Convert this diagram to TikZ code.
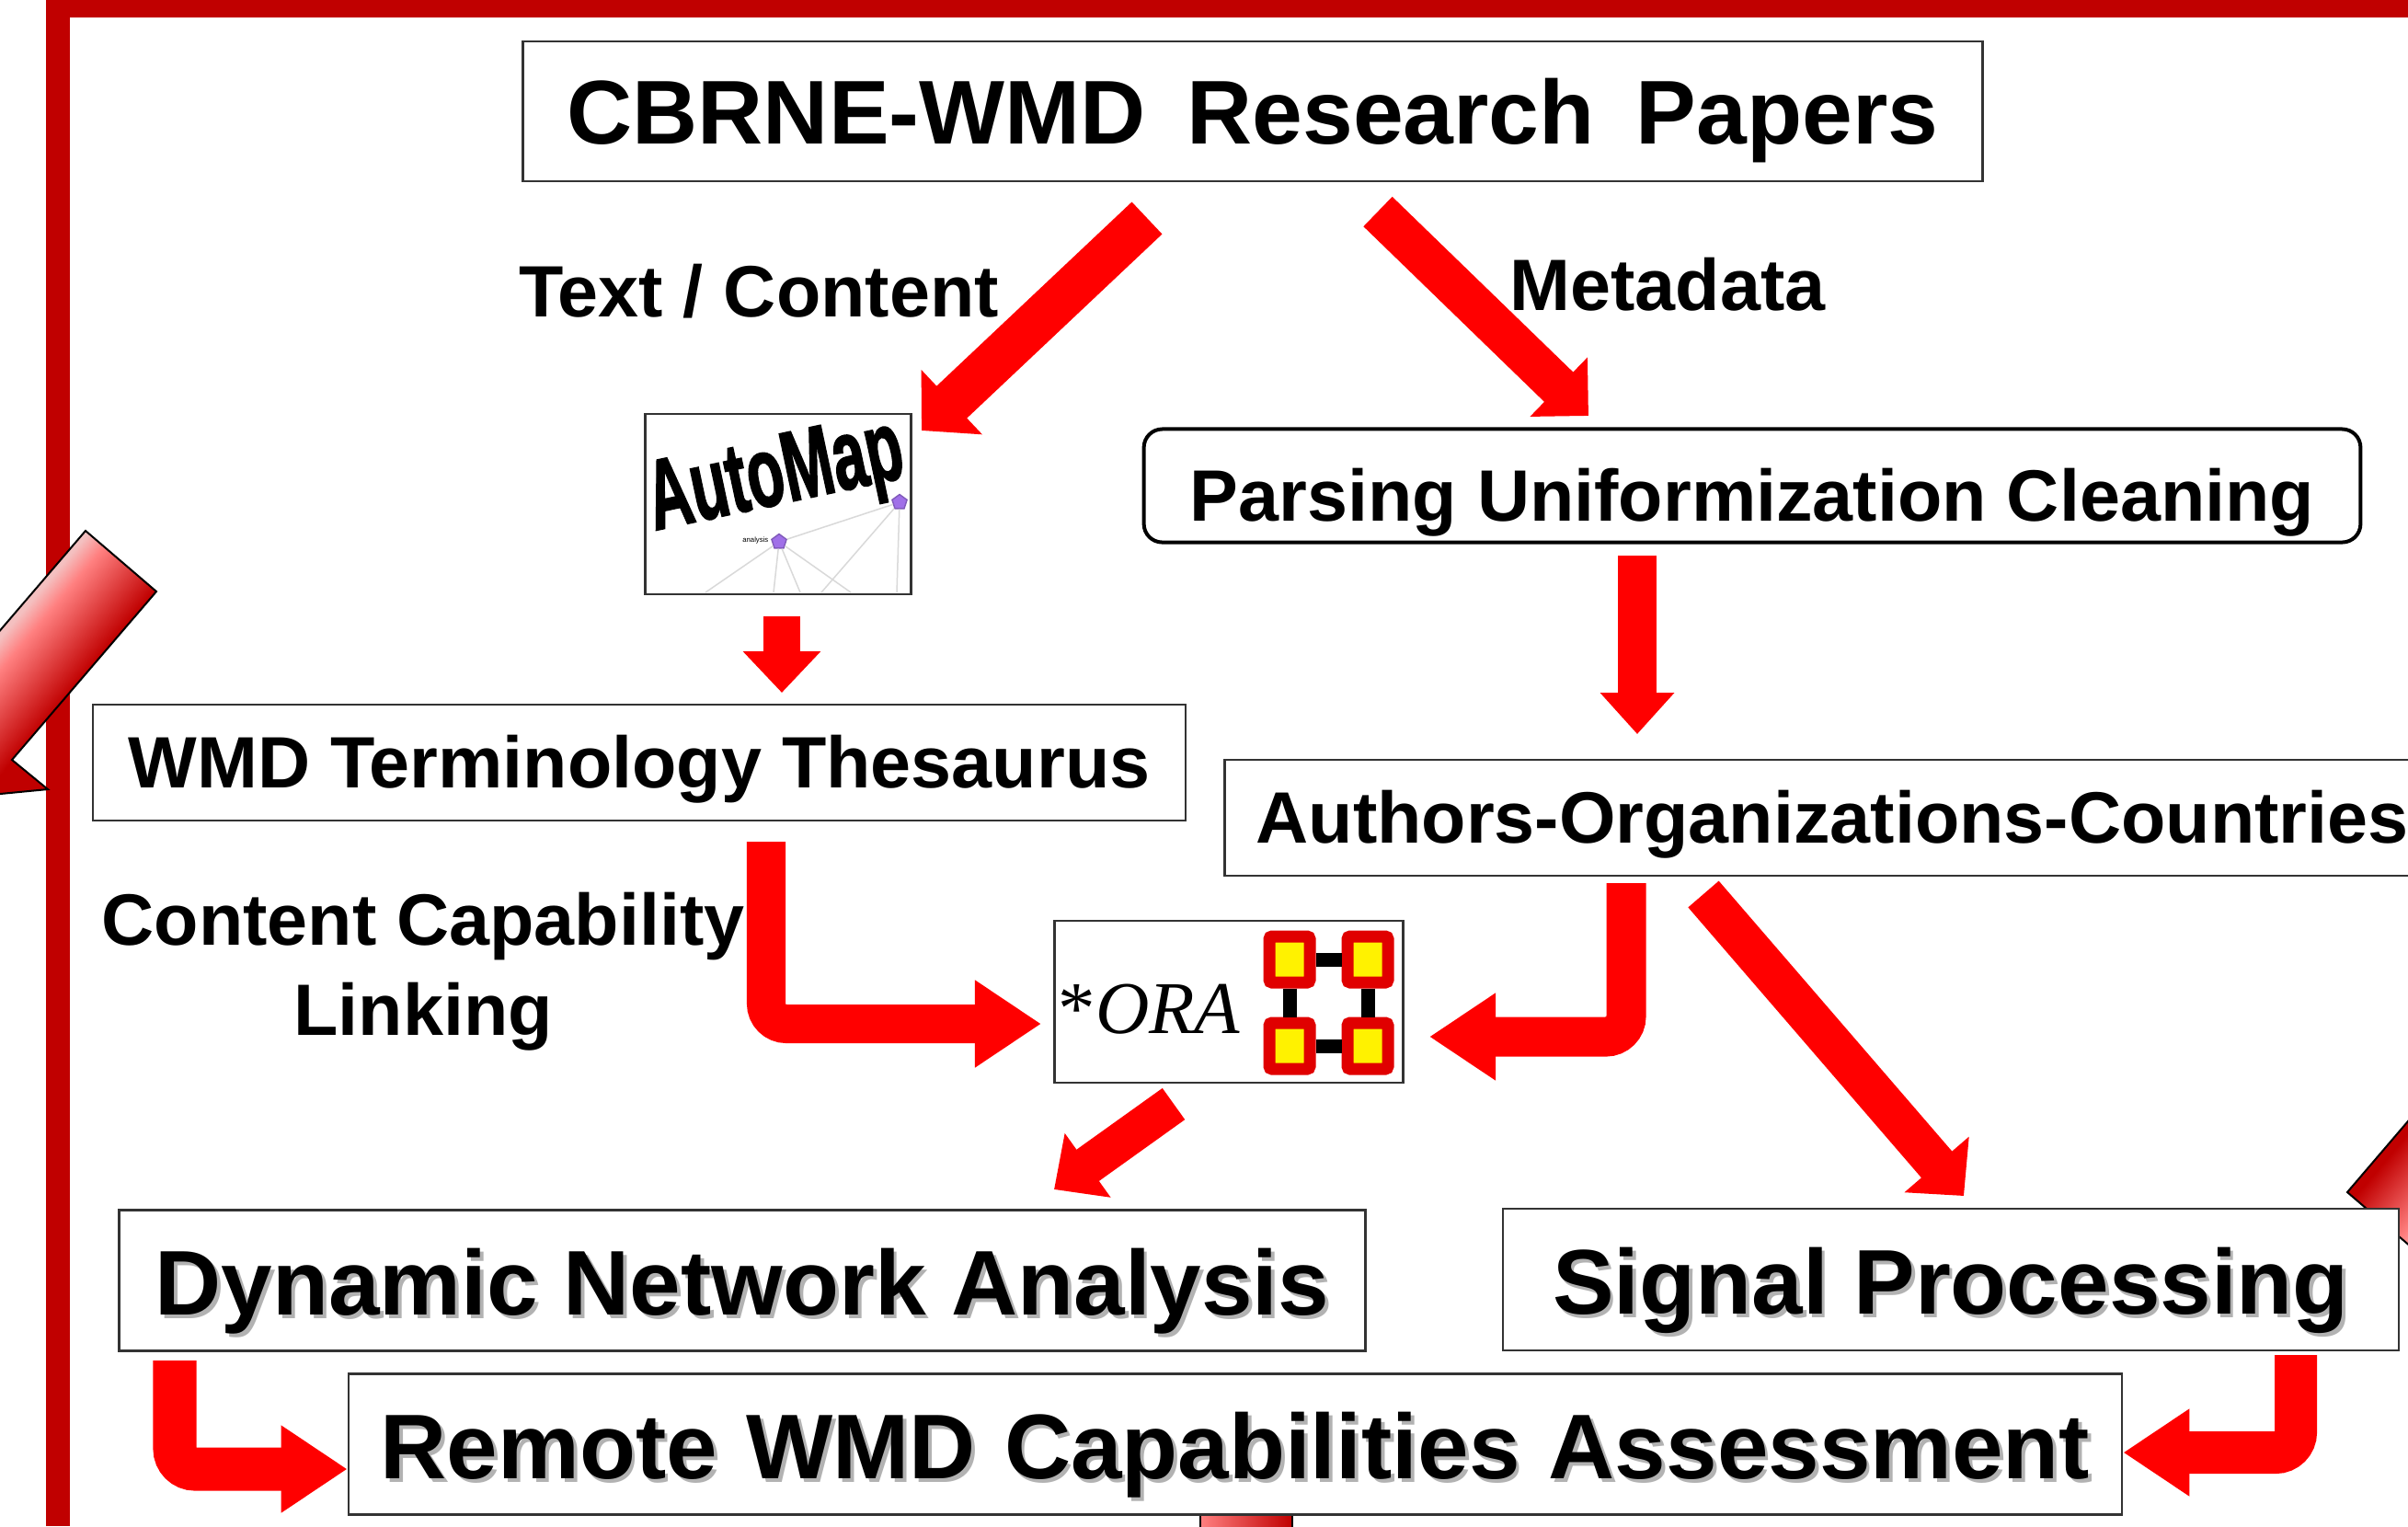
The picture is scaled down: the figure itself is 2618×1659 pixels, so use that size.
\documentclass[tikz,border=0pt]{standalone}
\usepackage{fontspec}
\setmainfont{Liberation Sans}
\newfontfamily\oraserif{Liberation Serif}
\newfontfamily\logofont[FakeBold=2]{Liberation Sans Bold}
\usetikzlibrary{arrows.meta,shapes.geometric}
\definecolor{framered}{HTML}{C00000}
\definecolor{barlight}{HTML}{F4C0C0}
\definecolor{barmid}{HTML}{FF8080}
\definecolor{netpurple}{HTML}{A070E8}
\pgfdeclareverticalshading{leftbar}{100bp}{color(0bp)=(framered); color(41bp)=(framered); color(54bp)=(barmid); color(58bp)=(barlight); color(100bp)=(barlight)}
\pgfdeclareverticalshading{rightbar}{100bp}{color(0bp)=(barlight); color(38bp)=(barlight); color(44bp)=(barmid); color(60bp)=(framered); color(100bp)=(framered)}
\newcommand{\softshadow}[1]{\rlap{\kern1.1pt\raisebox{-1.1pt}{\textcolor{black!30}{#1}}}#1}
\tikzset{
  labelbox/.style={draw=black!80,line width=0.025cm,fill=white,inner sep=0pt},
  bigtext/.style={font=\fontsize{28.4}{34}\selectfont\bfseries},
  midtext/.style={font=\fontsize{22.5}{28}\selectfont\bfseries},
  baseoff/.style={text depth=0pt,text height=#1},
  flowarrow/.style 2 args={draw=red,line width=#1,-{Triangle[length=0.45cm,width=#2,fill=red]}},
  elbowarrow/.style={draw=red,line width=#1,rounded corners=0.22cm,-{Triangle[length=0.72cm,width=0.9cm,fill=red]}},
  orasquare/.style={draw=red!88!black,fill=yellow,line width=0.13cm,rounded corners=0.03cm,minimum width=0.44cm,minimum height=0.5cm,inner sep=0pt},
  oralink/.style={line width=0.15cm,black},
  netnode/.style={regular polygon,regular polygon sides=5,draw=netpurple!80!black,fill=netpurple,minimum size=0.17cm,inner sep=0pt},
  netline/.style={black!15,line width=0.015cm}
}
\begin{document}
\begin{tikzpicture}[x=0.01cm,y=-0.01cm]
\useasboundingbox (0,0) rectangle (2618,1659);
\fill[white] (0,0) rectangle (2618,1659);
%frame
\fill[framered] (50,0) rectangle (2618,19);
\fill[framered] (50,0) rectangle (76,1659);
%side bars
\begin{scope}
\clip (0,0) rectangle (2618,1659);
\draw[black,line width=0.02cm,shading=leftbar,shading angle=50]
  (93,577) -- (170,643) -- (13,826) -- (52,858) -- (-93,872) -- (-104,728) -- (-64,760) -- cycle;
\draw[black,line width=0.02cm,shading=rightbar,shading angle=50]
  (2552,1296) -- (2629,1362) -- (2759,1210) -- (2682,1144) -- cycle;
\draw[black,line width=0.02cm,left color=barmid,right color=framered]
  (1305,1647) rectangle (1405,1700);
\end{scope}
%boxes
\node[labelbox,baseoff=20.2pt,font=\fontsize{28}{34}\selectfont\bfseries,minimum width=15.86cm,minimum height=1.52cm] (papers) at (1362,121) {CBRNE-WMD\hspace{5pt} Research\hspace{5pt} Papers};
\node[labelbox,minimum width=2.89cm,minimum height=1.96cm] (automap) at (846,548) {};
\node[labelbox,midtext,baseoff=22pt,draw=black,line width=0.04cm,rounded corners=0.2cm,minimum width=13.22cm,minimum height=1.23cm] (parsing) at (1905,528) {Parsing Uniformization Cleaning};
\node[labelbox,midtext,baseoff=15.7pt,minimum width=11.87cm,minimum height=1.26cm] (thesaurus) at (695,829) {WMD Terminology Thesaurus};
\node[labelbox,midtext,baseoff=15.7pt,minimum width=13.2cm,minimum height=1.26cm] (authors) at (1992,889) {Authors-Organizations-Countries};
\node[labelbox,minimum width=3.79cm,minimum height=1.76cm] (ora) at (1336,1089) {};
\node[labelbox,bigtext,baseoff=21.3pt,minimum width=13.54cm,minimum height=1.53cm] (dna) at (807,1392) {\softshadow{Dynamic Network Analysis}};
\node[labelbox,bigtext,baseoff=21.3pt,minimum width=9.73cm,minimum height=1.54cm] (signal) at (2121,1391) {\softshadow{Signal Processing}};
\node[labelbox,bigtext,baseoff=21.3pt,minimum width=19.27cm,minimum height=1.53cm] (remote) at (1343,1570) {\softshadow{Remote\hspace{1pt} WMD\hspace{1pt} Capabilities\hspace{1pt} Assessment}};
%labels
\node[midtext] (textlabel) at (825,317) {Text / Content};
\node[midtext] (metalabel) at (1813,309) {Metadata};
\node[midtext,align=center] (linklabel) at (460,1056) {Content Capability\\Linking};
%automap logo
\node[netnode] (nethub) at (847,589) {};
\node[netnode] (netcorner) at (978,546) {};
\foreach \x in {767,841,870,925} \draw[netline] (nethub) -- (\x,644);
\foreach \x in {893,975} \draw[netline] (netcorner) -- (\x,644);
\draw[netline] (nethub) -- (netcorner);
\node[font=\fontsize{2.2}{3}\selectfont,anchor=east,inner sep=0pt] (netname) at (836,587) {analysis};
\node[font=\logofont\fontsize{34}{40}\selectfont,rotate=12,xscale=0.55,yscale=0.9,transform shape] (autotext) at (844,522) {AutoMap};
%ora logo
\node[font=\oraserif\fontsize{23}{28}\selectfont,anchor=base west,inner sep=0pt] (oratext) at (1150,1123) {*\textit{ORA}};
\node[orasquare] (oraa) at (1402,1043) {};
\node[orasquare] (orab) at (1487,1043) {};
\node[orasquare] (orac) at (1402,1137) {};
\node[orasquare] (orad) at (1487,1137) {};
\draw[oralink] (oraa) -- (orab);
\draw[oralink] (orac) -- (orad);
\draw[oralink] (oraa) -- (orac);
\draw[oralink] (orab) -- (orad);
%arrows
\coordinate (a1) at (1247,237);
\coordinate (a2) at (1002,468);
\coordinate (b1) at (1498,230);
\coordinate (b2) at (1727,452);
\coordinate (c1) at (1852,972);
\coordinate (c2) at (2135,1300);
\coordinate (d1) at (1276,1200);
\coordinate (d2) at (1146,1293);
\coordinate (e1) at (850,670);
\coordinate (e2) at (850,753);
\coordinate (f1) at (1780,604);
\coordinate (f2) at (1780,798);
\coordinate (g1) at (833,915);
\coordinate (g2) at (1132,1113);
\coordinate (h1) at (1768,960);
\coordinate (h2) at (1554,1127);
\coordinate (i1) at (190,1479);
\coordinate (j1) at (2496,1473);
\draw[flowarrow={0.48cm}{0.94cm}] (a1) -- (a2);
\draw[flowarrow={0.45cm}{0.87cm}] (b1) -- (b2);
\draw[flowarrow={0.44cm}{0.9cm}] (c1) -- (c2);
\draw[flowarrow={0.42cm}{0.83cm}] (d1) -- (d2);
\draw[flowarrow={0.4cm}{0.82cm}] (e1) -- (e2);
\draw[flowarrow={0.42cm}{0.78cm}] (f1) -- (f2);
\draw[elbowarrow=0.42cm] (g1) |- (g2);
\draw[elbowarrow=0.43cm] (h1) |- (h2);
\draw[elbowarrow=0.47cm] (i1) |- (remote.west |- 0,1597);
\draw[elbowarrow=0.46cm] (j1) |- (remote.east |- 0,1579);
\end{tikzpicture}
\end{document}
